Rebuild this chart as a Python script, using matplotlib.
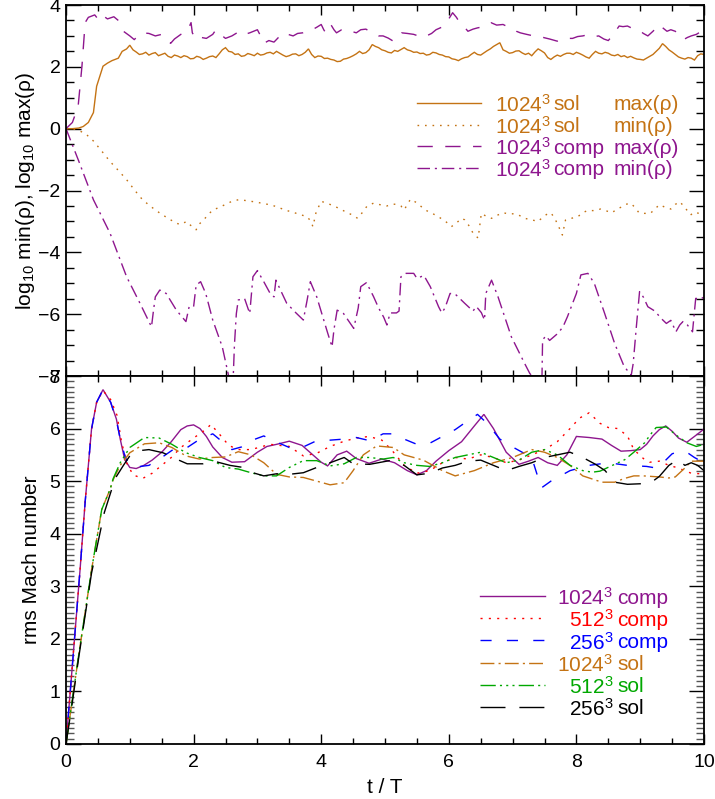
import matplotlib
matplotlib.use("Agg")
import matplotlib.pyplot as plt
from matplotlib.ticker import MultipleLocator
from matplotlib.lines import Line2D

plt.rcParams["font.family"] = ["Liberation Sans", "DejaVu Sans"]
plt.rcParams["mathtext.fontset"] = "custom"
plt.rcParams["mathtext.rm"] = "Liberation Sans"
plt.rcParams["mathtext.it"] = "Liberation Sans:italic"
plt.rcParams["lines.scale_dashes"] = False

# ---------------- density extrema (log10), 1024^3 runs ----------------
t_sol_max = [0, 0.1, 0.2, 0.27, 0.35, 0.43, 0.48, 0.53, 0.58, 0.65, 0.72, 0.82, 0.88, 0.95,
             1.00, 1.05, 1.10, 1.15, 1.20, 1.25, 1.30, 1.35, 1.40, 1.45, 1.50, 1.55, 1.60, 1.65,
             1.70, 1.75, 1.80, 1.85, 1.90, 1.95, 2.00, 2.05, 2.10, 2.15, 2.20, 2.25, 2.30, 2.35,
             2.40, 2.45, 2.50, 2.55, 2.60, 2.65, 2.70, 2.75, 2.80, 2.85, 2.90, 2.95, 3.00, 3.05,
             3.10, 3.15, 3.20, 3.25, 3.30, 3.35, 3.40, 3.45, 3.50, 3.55, 3.60, 3.65, 3.70, 3.75,
             3.80, 3.85, 3.90, 3.95, 4.00, 4.05, 4.10, 4.15, 4.20, 4.25, 4.30, 4.35, 4.40, 4.45,
             4.50, 4.55, 4.60, 4.65, 4.70, 4.75, 4.80, 4.85, 4.90, 4.95, 5.00, 5.05, 5.10, 5.15,
             5.20, 5.25, 5.30, 5.35, 5.40, 5.45, 5.50, 5.55, 5.60, 5.65, 5.70, 5.75, 5.80, 5.85,
             5.90, 5.95, 6.00, 6.05, 6.10, 6.15, 6.20, 6.25, 6.30, 6.35, 6.40, 6.45, 6.50, 6.55,
             6.60, 6.65, 6.70, 6.75, 6.80, 6.85, 6.90, 6.95, 7.00, 7.05, 7.10, 7.15, 7.20, 7.25,
             7.30, 7.35, 7.40, 7.45, 7.50, 7.55, 7.60, 7.65, 7.70, 7.75, 7.80, 7.85, 7.90, 7.95,
             8.00, 8.05, 8.10, 8.15, 8.20, 8.25, 8.30, 8.35, 8.40, 8.45, 8.50, 8.55, 8.60, 8.65,
             8.70, 8.75, 8.80, 8.85, 8.90, 8.95, 9.00, 9.05, 9.10, 9.15, 9.20, 9.25, 9.30, 9.35,
             9.40, 9.45, 9.50, 9.55, 9.60, 9.65, 9.70, 9.75, 9.80, 9.85, 9.90, 9.95, 10.00]
sol_max = [0, 0.0, 0.02, 0.07, 0.2, 0.52, 1.37, 1.7, 2.02, 2.12, 2.2, 2.28, 2.5, 2.58,
           2.70, 2.55, 2.48, 2.40, 2.42, 2.47, 2.38, 2.43, 2.46, 2.36, 2.40, 2.44, 2.34, 2.30,
           2.38, 2.35, 2.30, 2.36, 2.33, 2.26, 2.27, 2.34, 2.31, 2.24, 2.28, 2.33, 2.35, 2.30,
           2.42, 2.55, 2.62, 2.50, 2.48, 2.40, 2.42, 2.34, 2.36, 2.43, 2.40, 2.36, 2.44, 2.38,
           2.40, 2.45, 2.47, 2.42, 2.50, 2.44, 2.38, 2.33, 2.36, 2.41, 2.42, 2.36, 2.40, 2.47,
           2.58, 2.40, 2.30, 2.35, 2.34, 2.27, 2.28, 2.24, 2.22, 2.17, 2.18, 2.25, 2.27, 2.31,
           2.36, 2.42, 2.50, 2.43, 2.46, 2.55, 2.72, 2.66, 2.62, 2.55, 2.52, 2.47, 2.45, 2.53,
           2.50, 2.56, 2.62, 2.55, 2.52, 2.47, 2.48, 2.43, 2.44, 2.38, 2.40, 2.47, 2.45, 2.40,
           2.38, 2.33, 2.32, 2.26, 2.24, 2.20, 2.26, 2.30, 2.32, 2.40, 2.47, 2.40, 2.38, 2.45,
           2.52, 2.58, 2.66, 2.72, 2.78, 2.55, 2.50, 2.44, 2.46, 2.51, 2.52, 2.45, 2.40, 2.44,
           2.36, 2.48, 2.58, 2.52, 2.45, 2.30, 2.24, 2.32, 2.38, 2.34, 2.40, 2.44, 2.44, 2.40,
           2.47, 2.43, 2.38, 2.32, 2.28, 2.40, 2.50, 2.44, 2.42, 2.47, 2.44, 2.38, 2.36, 2.40,
           2.33, 2.36, 2.30, 2.34, 2.29, 2.25, 2.24, 2.22, 2.28, 2.34, 2.40, 2.50, 2.60, 2.75,
           2.66, 2.55, 2.48, 2.40, 2.32, 2.28, 2.25, 2.30, 2.28, 2.22, 2.36, 2.42, 2.40]

t_sol_min = [0, 0.15, 0.3, 0.43, 0.55, 0.69, 0.82, 0.95, 1.08, 1.2, 1.33, 1.47, 1.6, 1.73,
             1.8, 1.89, 1.95, 2.04, 2.08, 2.15, 2.22, 2.3, 2.4, 2.5, 2.6, 2.7, 2.8, 2.9, 3.0,
             3.08, 3.17, 3.3, 3.43, 3.55, 3.69, 3.78, 3.84, 3.87, 3.92, 4.0, 4.1, 4.2, 4.3,
             4.42, 4.5, 4.57, 4.65, 4.72, 4.82, 4.9, 5.03, 5.1, 5.18, 5.25, 5.3, 5.35, 5.4,
             5.5, 5.63, 5.75, 5.83, 5.95, 6.04, 6.12, 6.2, 6.25, 6.32, 6.38, 6.46, 6.51, 6.6,
             6.67, 6.76, 6.85, 6.95, 7.03, 7.1, 7.19, 7.3, 7.4, 7.48, 7.55, 7.6, 7.66, 7.71,
             7.78, 7.83, 7.92, 8.02, 8.1, 8.17, 8.27, 8.38, 8.47, 8.56, 8.62, 8.69, 8.77, 8.85,
             8.92, 8.98, 9.07, 9.16, 9.23, 9.3, 9.4, 9.48, 9.55, 9.62, 9.7, 9.79, 9.85, 9.92, 10.0]
sol_min = [0, -0.02, -0.15, -0.4, -0.7, -1.06, -1.35, -1.65, -2.0, -2.3, -2.52, -2.73, -2.9,
           -3.06, -3.1, -3.0, -3.12, -3.27, -3.1, -2.97, -2.8, -2.63, -2.55, -2.45, -2.35, -2.3,
           -2.32, -2.35, -2.38, -2.42, -2.45, -2.52, -2.63, -2.7, -2.79, -2.85, -3.0, -3.17,
           -2.7, -2.35, -2.42, -2.5, -2.6, -2.73, -2.8, -2.9, -2.7, -2.5, -2.41, -2.45, -2.5,
           -2.45, -2.44, -2.5, -2.63, -2.45, -2.28, -2.4, -2.63, -2.75, -2.84, -3.0, -3.17,
           -3.05, -2.9, -2.95, -3.15, -3.38, -3.54, -2.74, -2.85, -2.9, -2.8, -2.72, -2.76,
           -2.75, -2.8, -2.9, -2.95, -3.0, -2.85, -2.75, -2.72, -2.9, -3.11, -3.44, -2.95, -2.9,
           -2.85, -2.72, -2.65, -2.65, -2.6, -2.66, -2.72, -2.62, -2.55, -2.45, -2.41, -2.55,
           -2.72, -2.74, -2.74, -2.6, -2.46, -2.55, -2.6, -2.45, -2.36, -2.55, -2.79, -2.7,
           -2.74, -2.65]

t_comp_max = [0, 0.1, 0.19, 0.25, 0.3, 0.35, 0.45, 0.5, 0.55, 0.65, 0.75, 0.82, 0.9, 1.0,
              1.07, 1.15, 1.2, 1.3, 1.4, 1.5, 1.55, 1.64, 1.7, 1.8, 1.9, 1.96, 1.98, 2.04,
              2.12, 2.2, 2.3, 2.35, 2.42, 2.5, 2.6, 2.72, 2.8, 2.88, 3.0, 3.05, 3.1, 3.18,
              3.26, 3.33, 3.4, 3.48, 3.56, 3.63, 3.71, 3.78, 3.86, 3.93, 4.0, 4.04, 4.07, 4.11,
              4.15, 4.2, 4.24, 4.32, 4.4, 4.47, 4.55, 4.62, 4.7, 4.8, 4.9, 4.97, 5.05, 5.13,
              5.2, 5.26, 5.35, 5.45, 5.52, 5.57, 5.65, 5.73, 5.8, 5.93, 6.0, 6.06, 6.12, 6.17,
              6.24, 6.3, 6.38, 6.45, 6.55, 6.66, 6.75, 6.85, 6.92, 7.0, 7.06, 7.12, 7.22, 7.33,
              7.4, 7.48, 7.58, 7.7, 7.8, 7.94, 8.02, 8.1, 8.2, 8.28, 8.35, 8.43, 8.5, 8.58,
              8.67, 8.73, 8.8, 8.9, 8.97, 9.05, 9.12, 9.2, 9.3, 9.36, 9.42, 9.48, 9.55, 9.62,
              9.68, 9.74, 9.8, 9.88, 9.96, 10.0]
comp_max = [0, 0.2, 0.72, 2.02, 3.43, 3.6, 3.68, 3.55, 3.7, 3.55, 3.62, 3.5, 3.15, 3.0,
            2.88, 3.05, 3.1, 3.08, 3.0, 3.05, 2.95, 2.76, 2.9, 3.05, 3.15, 3.43, 3.1, 2.88,
            2.95, 2.92, 3.05, 3.2, 3.05, 2.92, 3.0, 3.15, 3.05, 3.1, 3.2, 3.0, 2.76, 2.85,
            2.8, 2.95, 3.1, 3.05, 3.0, 3.08, 3.1, 3.18, 3.2, 3.28, 3.37, 3.2, 3.1, 3.25,
            3.37, 3.2, 3.1, 3.2, 3.22, 3.15, 3.1, 3.2, 3.22, 3.1, 3.0, 3.0, 2.93, 2.83,
            2.98, 3.1, 3.08, 3.05, 3.0, 2.95, 3.0, 3.08, 3.2, 3.32, 3.55, 3.75, 3.6, 3.43,
            3.3, 3.15, 3.22, 3.26, 3.3, 3.43, 3.35, 3.37, 3.3, 3.25, 3.15, 3.1, 3.05, 3.0,
            2.95, 2.95, 2.9, 2.83, 2.92, 2.92, 2.98, 3.0, 3.05, 2.98, 3.0, 2.9, 2.85, 3.05,
            3.32, 3.3, 3.32, 3.22, 3.2, 3.08, 3.0, 3.15, 3.37, 3.25, 3.15, 3.2, 3.15, 3.0,
            2.88, 2.95, 3.0, 3.05, 3.15, 3.12]

t_comp_min = [0, 0.2, 0.43, 0.69, 0.95, 1.16, 1.34, 1.37, 1.4, 1.47, 1.57, 1.73, 1.88, 1.93,
              2.0, 2.04, 2.11, 2.19, 2.3, 2.45, 2.56, 2.62, 2.64, 2.67, 2.7, 2.8, 2.88, 2.93,
              3.0, 3.1, 3.2, 3.26, 3.29, 3.38, 3.46, 3.6, 3.72, 3.78, 3.83, 3.93, 4.04, 4.1,
              4.17, 4.2, 4.25, 4.35, 4.51, 4.58, 4.62, 4.71, 4.82, 4.9, 4.98, 5.03, 5.08, 5.18,
              5.22, 5.25, 5.33, 5.45, 5.5, 5.61, 5.71, 5.84, 5.89, 5.94, 6.02, 6.1, 6.25, 6.38,
              6.43, 6.51, 6.56, 6.58, 6.67, 6.77, 6.98, 7.19, 7.27, 7.35, 7.46, 7.47, 7.52,
              7.58, 7.71, 7.79, 7.86, 8.0, 8.07, 8.18, 8.28, 8.44, 8.6, 8.75, 8.86, 8.89, 8.94,
              8.99, 9.05, 9.12, 9.23, 9.33, 9.41, 9.48, 9.56, 9.62, 9.67, 9.74, 9.82, 9.87,
              9.95, 10.0]
comp_min = [0, -1.05, -2.3, -3.38, -4.79, -5.65, -6.41, -5.9, -5.44, -5.22, -5.33, -5.87,
            -6.24, -5.76, -5.76, -5.06, -4.95, -5.33, -6.19, -7.06, -8.1, -8.1, -7.0, -5.98,
            -5.54, -5.5, -5.98, -4.79, -4.59, -4.95, -5.33, -5.44, -4.9, -5.3, -5.65, -5.95,
            -6.19, -5.54, -4.95, -5.44, -6.19, -6.6, -7.06, -6.5, -5.87, -5.98, -6.46, -5.8,
            -5.11, -4.98, -5.43, -5.8, -6.1, -6.35, -5.96, -5.96, -5.9, -4.79, -4.68, -4.68,
            -4.84, -4.75, -5.11, -5.76, -5.96, -5.8, -5.33, -5.35, -5.65, -5.9, -5.75, -5.95,
            -6.19, -5.33, -4.9, -5.43, -6.73, -7.6, -7.92, -8.1, -8.1, -6.84, -6.7, -6.85,
            -6.62, -6.41, -6.08, -5.33, -4.73, -4.68, -5.0, -5.96, -6.95, -7.7, -7.97, -7.6,
            -6.4, -5.27, -5.45, -5.76, -5.9, -6.14, -6.3, -6.2, -6.57, -6.35, -6.24, -6.35,
            -6.57, -5.49, -5.5, -5.45]

# ---------------- rms Mach number ----------------
t_m1024c = [0, 0.1, 0.22, 0.3, 0.4, 0.48, 0.58, 0.7, 0.79, 0.85, 0.92, 1.0, 1.1, 1.22, 1.35,
            1.5, 1.65, 1.8, 1.9, 2.0, 2.1, 2.2, 2.3, 2.45, 2.6, 2.8, 3.0, 3.15, 3.3, 3.5, 3.7,
            3.85, 4.0, 4.1, 4.25, 4.4, 4.55, 4.75, 4.95, 5.15, 5.35, 5.5, 5.65, 5.8, 6.0, 6.2,
            6.4, 6.55, 6.7, 6.9, 7.1, 7.25, 7.4, 7.55, 7.7, 7.85, 8.0, 8.2, 8.4, 8.55, 8.7,
            8.85, 9.0, 9.1, 9.2, 9.3, 9.4, 9.5, 9.6, 9.73, 9.85, 10.0]
m1024c = [0, 1.5, 3.31, 4.6, 5.99, 6.5, 6.74, 6.5, 6.18, 5.8, 5.41, 5.26, 5.24, 5.3, 5.4,
          5.55, 5.75, 5.98, 6.05, 6.07, 6.0, 5.85, 5.65, 5.45, 5.36, 5.37, 5.55, 5.66, 5.7,
          5.76, 5.68, 5.52, 5.36, 5.29, 5.5, 5.57, 5.43, 5.34, 5.42, 5.35, 5.2, 5.12, 5.2,
          5.38, 5.58, 5.75, 6.05, 6.27, 6.0, 5.55, 5.32, 5.38, 5.45, 5.35, 5.3, 5.5, 5.85,
          5.83, 5.8, 5.68, 5.57, 5.58, 5.6, 5.7, 5.86, 5.98, 6.05, 5.95, 5.82, 5.74, 5.85, 5.99]

t_m512c = [0, 0.1, 0.22, 0.3, 0.4, 0.48, 0.58, 0.7, 0.8, 0.87, 0.95, 1.05, 1.2, 1.35, 1.5,
           1.66, 1.8, 2.0, 2.2, 2.27, 2.45, 2.55, 2.7, 2.9, 3.2, 3.5, 3.72, 3.93, 4.14, 4.36,
           4.55, 4.75, 4.95, 5.1, 5.3, 5.5, 5.7, 5.9, 6.1, 6.3, 6.5, 6.7, 6.9, 7.1, 7.3, 7.5,
           7.7, 7.9, 8.05, 8.2, 8.37, 8.5, 8.65, 8.8, 8.9, 9.05, 9.15, 9.3, 9.45, 9.57, 9.7,
           9.8, 9.95, 10.0]
m512c = [0, 1.5, 3.31, 4.6, 5.99, 6.5, 6.72, 6.55, 6.25, 5.75, 5.35, 5.12, 5.05, 5.15, 5.3,
         5.46, 5.64, 5.82, 5.99, 6.08, 5.83, 5.68, 5.6, 5.6, 5.7, 5.66, 5.48, 5.53, 5.66,
         5.76, 5.82, 5.85, 5.78, 5.6, 5.3, 5.15, 5.2, 5.35, 5.45, 5.42, 5.5, 5.45, 5.35, 5.4,
         5.5, 5.6, 5.75, 6.0, 6.2, 6.3, 6.1, 6.02, 6.0, 5.86, 5.6, 5.43, 5.36, 5.38, 5.3,
         5.26, 5.2, 5.15, 5.14, 5.15]

t_m256c = [0, 0.1, 0.22, 0.3, 0.4, 0.48, 0.58, 0.7, 0.79, 0.86, 0.93, 1.0, 1.1, 1.3, 1.5,
           1.69, 1.9, 2.1, 2.3, 2.45, 2.6, 2.75, 2.9, 3.1, 3.25, 3.5, 3.7, 3.93, 4.14, 4.36,
           4.55, 4.76, 4.97, 5.13, 5.3, 5.5, 5.7, 5.9, 6.1, 6.3, 6.45, 6.6, 6.8, 7.0, 7.15,
           7.3, 7.45, 7.6, 7.9, 8.2, 8.5, 8.8, 9.1, 9.25, 9.4, 9.5, 9.62, 9.73, 9.85, 10.0]
m256c = [0, 1.5, 3.31, 4.6, 5.99, 6.5, 6.74, 6.5, 6.15, 5.75, 5.45, 5.3, 5.27, 5.3, 5.45,
         5.61, 5.64, 5.8, 5.9, 5.75, 5.6, 5.65, 5.77, 5.86, 5.77, 5.64, 5.64, 5.77, 5.78,
         5.8, 5.83, 5.77, 5.9, 5.9, 5.8, 5.7, 5.72, 5.85, 5.98, 6.15, 6.27, 6.1, 5.8, 5.65,
         5.55, 5.45, 4.87, 5.0, 5.2, 5.3, 5.35, 5.3, 5.28, 5.25, 5.4, 5.52, 5.57, 5.55, 5.45,
         5.35]

t_m1024s = [0, 0.1, 0.2, 0.3, 0.4, 0.56, 0.69, 0.74, 0.85, 1.0, 1.23, 1.46, 1.66, 1.88,
            2.09, 2.3, 2.5, 2.7, 2.9, 3.1, 3.3, 3.5, 3.72, 3.93, 4.14, 4.36, 4.5, 4.66, 4.87,
            5.13, 5.3, 5.6, 5.9, 6.1, 6.4, 6.7, 7.0, 7.3, 7.5, 7.7, 7.9, 8.1, 8.4, 8.6, 8.75,
            8.9, 9.05, 9.3, 9.45, 9.55, 9.7, 9.8, 10.0]
m1024s = [0, 0.85, 1.7, 2.5, 3.31, 4.46, 4.84, 5.03, 5.3, 5.54, 5.71, 5.73, 5.64, 5.48,
          5.42, 5.45, 5.46, 5.56, 5.5, 5.35, 5.13, 5.08, 5.07, 5.0, 4.93, 4.97, 5.2, 5.5,
          5.67, 5.64, 5.5, 5.4, 5.2, 5.1, 5.2, 5.35, 5.45, 5.6, 5.55, 5.45, 5.3, 5.1, 4.98,
          4.98, 5.05, 5.1, 5.1, 5.08, 5.06, 5.08, 5.25, 5.38, 5.38]

t_m512s = [0, 0.1, 0.2, 0.3, 0.4, 0.56, 0.69, 0.74, 0.85, 1.0, 1.23, 1.46, 1.66, 1.88, 2.09,
           2.3, 2.5, 2.7, 2.9, 3.1, 3.3, 3.5, 3.72, 3.93, 4.14, 4.36, 4.55, 4.76, 4.97, 5.13,
           5.3, 5.5, 5.7, 5.9, 6.1, 6.3, 6.5, 6.7, 6.9, 7.1, 7.3, 7.5, 7.7, 7.9, 8.1, 8.25,
           8.37, 8.6, 8.76, 8.89, 9.07, 9.15, 9.25, 9.41, 9.57, 9.73, 9.88, 10.0]
m512s = [0, 0.85, 1.7, 2.5, 3.31, 4.46, 4.84, 5.05, 5.35, 5.64, 5.83, 5.82, 5.7, 5.54,
         5.45, 5.39, 5.26, 5.23, 5.16, 5.1, 5.1, 5.26, 5.39, 5.39, 5.29, 5.33, 5.45, 5.45,
         5.42, 5.45, 5.35, 5.3, 5.28, 5.35, 5.45, 5.5, 5.55, 5.45, 5.35, 5.4, 5.55, 5.6, 5.5,
         5.3, 5.2, 5.17, 5.19, 5.32, 5.41, 5.54, 5.73, 5.87, 6.02, 6.03, 5.87, 5.73, 5.66, 5.7]

t_m256s = [0, 0.1, 0.2, 0.3, 0.4, 0.6, 0.77, 0.9, 1.0, 1.15, 1.3, 1.52, 1.73, 1.9, 2.15,
           2.35, 2.57, 2.78, 2.93, 3.1, 3.3, 3.5, 3.72, 3.93, 4.14, 4.36, 4.5, 4.76, 5.07,
           5.3, 5.5, 5.7, 5.9, 6.1, 6.3, 6.5, 6.7, 6.9, 7.1, 7.3, 7.5, 7.7, 7.9, 8.1, 8.3,
           8.45, 8.6, 8.8, 9.0, 9.2, 9.3, 9.45, 9.59, 9.7, 9.8, 9.9, 10.0]
m256s = [0, 0.8, 1.65, 2.45, 3.25, 4.4, 5.05, 5.3, 5.48, 5.58, 5.6, 5.54, 5.42, 5.33, 5.33,
         5.37, 5.3, 5.26, 5.16, 5.1, 5.14, 5.13, 5.16, 5.26, 5.35, 5.45, 5.33, 5.32, 5.39,
         5.3, 5.12, 5.15, 5.25, 5.3, 5.38, 5.4, 5.3, 5.2, 5.28, 5.35, 5.45, 5.5, 5.55, 5.45,
         5.32, 5.2, 4.98, 4.94, 4.95, 5.0, 5.09, 5.3, 5.41, 5.3, 5.35, 5.3, 5.2]

ORANGE = "#C47314"
PURPLE = "#8E168E"
GREEN = "#00A800"

# line styles as (color, dash pattern in points)
SOLID = None
st_sol_max = (ORANGE, SOLID)
st_sol_min = (ORANGE, (0, (1.2, 4.2)))
st_comp_max = (PURPLE, (0, (11, 9)))
st_comp_min = (PURPLE, (0, (9, 3.5, 1.5, 3.5)))

st_1024c = (PURPLE, SOLID)
st_512c = ("#FF0000", (0, (1.5, 4.5)))
st_256c = ("#0000FF", (0, (8, 11)))
st_1024s = (ORANGE, (0, (10, 3, 1.5, 3)))
st_512s = (GREEN, (0, (11, 3, 1.5, 3, 1.5, 3, 1.5, 3)))
st_256s = ("#000000", (0, (18, 10)))

LW = 1.0
FS = 14
FS_KEY = 15
FS_LABEL = 15

fig = plt.figure(figsize=(7.15, 7.99), dpi=100)
W_PX, H_PX = 715.0, 799.0
left, width = 66 / W_PX, 638 / W_PX
ax1 = fig.add_axes([left, 1 - 376 / H_PX, width, 371 / H_PX])
ax2 = fig.add_axes([left, 1 - 744 / H_PX, width, 368 / H_PX])


def draw(ax, t, v, style):
    color, dash = style
    if dash is None:
        ax.plot(t, v, color=color, lw=LW, solid_joinstyle="miter")
    else:
        ax.plot(t, v, color=color, lw=LW, linestyle=dash)


draw(ax1, t_sol_max, sol_max, st_sol_max)
draw(ax1, t_sol_min, sol_min, st_sol_min)
draw(ax1, t_comp_max, comp_max, st_comp_max)
draw(ax1, t_comp_min, comp_min, st_comp_min)

draw(ax2, t_m1024c, m1024c, st_1024c)
draw(ax2, t_m512c, m512c, st_512c)
draw(ax2, t_m256c, m256c, st_256c)
draw(ax2, t_m1024s, m1024s, st_1024s)
draw(ax2, t_m512s, m512s, st_512s)
draw(ax2, t_m256s, m256s, st_256s)

for ax in (ax1, ax2):
    ax.set_xlim(0, 10)
    ax.xaxis.set_major_locator(MultipleLocator(2))
    ax.xaxis.set_minor_locator(MultipleLocator(0.5))
    ax.tick_params(which="both", direction="in", top=True, right=True,
                   labelsize=FS, width=1.0, color="black")
    ax.tick_params(axis="x", which="major", length=7, pad=7)
    ax.tick_params(axis="x", which="minor", length=4)
    ax.tick_params(axis="y", which="major", length=11, pad=4)
    ax.tick_params(axis="y", which="minor", length=5.5)
    for s in ax.spines.values():
        s.set_linewidth(1.3)

ax1.set_ylim(-8, 4)
ax1.yaxis.set_major_locator(MultipleLocator(2))
ax1.yaxis.set_minor_locator(MultipleLocator(0.5))
ax1.tick_params(axis="x", labelbottom=False)
ax1.set_ylabel(r"log$_{10}$ min(ρ), log$_{10}$ max(ρ)", fontsize=FS_LABEL, labelpad=1)

ax2.set_ylim(0, 7)
ax2.yaxis.set_major_locator(MultipleLocator(1))
ax2.yaxis.set_minor_locator(MultipleLocator(0.1))
ax2.tick_params(axis="y", which="minor", color="#555555")
ax2.set_ylabel("rms Mach number", fontsize=FS_LABEL, labelpad=6)
ax2.set_xlabel("t / T", fontsize=FS_LABEL, labelpad=5)


def fx(x):
    return x / W_PX


def fy(y):
    return 1 - y / H_PX


def key_line(x0, x1, y, style):
    color, dash = style
    kw = dict(color=color, lw=LW, transform=fig.transFigure)
    if dash is not None:
        kw["linestyle"] = dash
    fig.add_artist(Line2D([fx(x0), fx(x1)], [fy(y), fy(y)], **kw))


# key for the density panel
top_rows = [
    (st_sol_max, "1024$^3$", "sol", "max(ρ)"),
    (st_sol_min, "1024$^3$", "sol", "min(ρ)"),
    (st_comp_max, "1024$^3$", "comp", "max(ρ)"),
    (st_comp_min, "1024$^3$", "comp", "min(ρ)"),
]
for i, (st, num, kind, what) in enumerate(top_rows):
    y = 103 + i * 21.5
    key_line(417, 481, y, st)
    col = st[0]
    fig.text(fx(495), fy(y), num, color=col, fontsize=FS_KEY, ha="left", va="center_baseline")
    fig.text(fx(553), fy(y), kind, color=col, fontsize=FS_KEY, ha="left", va="center_baseline")
    fig.text(fx(614), fy(y), what, color=col, fontsize=FS_KEY, ha="left", va="center_baseline")

# key for the Mach number panel
bot_rows = [
    (st_1024c, "1024$^3$", "comp"),
    (st_512c, "512$^3$", "comp"),
    (st_256c, "256$^3$", "comp"),
    (st_1024s, "1024$^3$", "sol"),
    (st_512s, "512$^3$", "sol"),
    (st_256s, "256$^3$", "sol"),
]
for i, (st, num, kind) in enumerate(bot_rows):
    y = 596 + i * 22.2
    key_line(480, 545, y, st)
    col = st[0]
    fig.text(fx(613), fy(y), num, color=col, fontsize=FS_KEY, ha="right", va="center_baseline")
    fig.text(fx(617), fy(y), kind, color=col, fontsize=FS_KEY, ha="left", va="center_baseline")

fig.savefig("out.png", dpi=100)
